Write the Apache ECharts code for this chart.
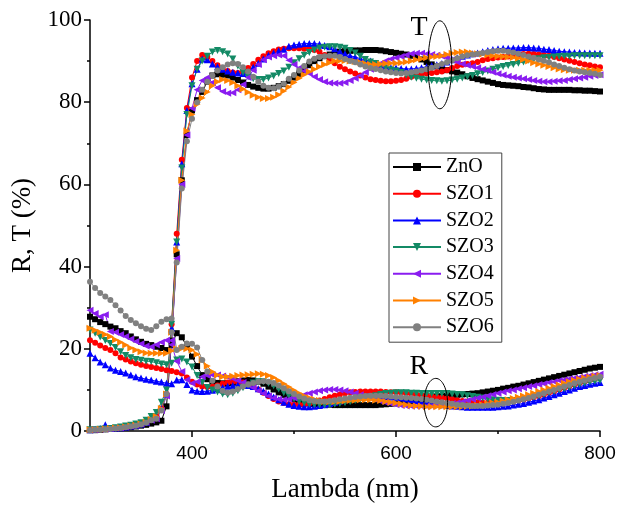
<!DOCTYPE html>
<html>
<head>
<meta charset="utf-8">
<script src="https://cdn.jsdelivr.net/npm/echarts@6/dist/echarts.min.js"></script>
<style>
  html, body { margin: 0; padding: 0; background: #fff; }
  #chart { width: 619px; height: 512px; }
</style>
</head>
<body>
<div id="chart"></div>
<script>
// Wavelength grid of the spectra (nm), 5 nm step
const wavelengths = [];
for (let w = 300; w <= 800; w += 5) wavelengths.push(w);

const sampleNames = ['ZnO', 'SZO1', 'SZO2', 'SZO3', 'SZO4', 'SZO5', 'SZO6'];
const xTickLabels = [400, 600, 800];

// Transmittance T (%)
const tZnO = [
  0.2, 0.2, 0.3, 0.4, 0.5, 0.6, 0.7, 0.8, 0.9, 1.1,
  1.3, 1.5, 1.8, 2.1, 2.5, 6, 22, 43, 61, 72,
  78, 80.5, 82.5, 85, 86.5, 86.8, 86.7, 86.5, 86, 85.4,
  84.8, 84.2, 83.8, 83.5, 83.3, 83.3, 83.5, 83.9, 84.4, 85.2,
  86, 86.9, 87.8, 89, 90, 90.7, 91.2, 91.6, 92, 92.3,
  92.4, 92.5, 92.6, 92.6, 92.7, 92.7, 92.7, 92.6, 92.4, 92.2,
  92, 91.8, 91.6, 91.3, 91, 90.4, 89.8, 89.2, 88.7, 88.2,
  87.8, 87.5, 87.2, 86.8, 86.3, 85.9, 85.6, 85.3, 85, 84.7,
  84.4, 84.2, 84.1, 84, 83.9, 83.7, 83.6, 83.4, 83.2, 83.1,
  83, 83, 83, 83, 83, 82.9, 82.9, 82.8, 82.8, 82.7,
  82.6
];
const tSZO1 = [
  0.3, 0.3, 0.4, 0.5, 0.6, 0.7, 0.8, 1.0, 1.2, 1.4,
  1.7, 2.1, 2.8, 3.5, 5.5, 9, 26, 48, 66, 78.6,
  86, 90, 91.5, 91, 90, 89, 88.3, 87.6, 87.2, 87.1,
  87.5, 88.3, 89.3, 90.3, 91.2, 91.9, 92.4, 92.8, 93, 93.1,
  93.1, 93.1, 93, 92.9, 92.7, 92.3, 91.5, 90.5, 89.5, 88.6,
  88, 87.5, 87, 86.5, 86, 85.6, 85.4, 85.2, 85.1, 85.1,
  85.2, 85.4, 85.7, 86.2, 86.5, 86.8, 87, 87.1, 87.3, 87.5,
  87.8, 88.3, 88.8, 89.1, 89.3, 89.5, 89.8, 90.2, 90.5, 90.7,
  90.9, 91, 91.1, 91.3, 91.5, 91.7, 91.8, 91.7, 91.6, 91.5,
  91.3, 91, 90.7, 90.4, 90.1, 89.8, 89.5, 89.2, 89, 88.7,
  88.5
];
const tSZO2 = [
  0.3, 0.4, 0.6, 1.5, 0.6, 0.7, 0.8, 1.0, 1.2, 1.4,
  1.7, 2.1, 2.8, 3.5, 5.5, 9, 25, 46, 65, 78,
  84.5, 88, 90.5, 90.3, 89.3, 88.6, 88, 87.6, 87.3, 87.1,
  87, 87.4, 88.5, 89.5, 90.5, 91.4, 92, 92.5, 92.9, 93.6,
  93.9, 94.1, 94.3, 94.3, 94.3, 94.1, 93.8, 93.5, 93, 92.4,
  91.8, 91.3, 91, 90.6, 90.3, 90, 89.5, 89, 88.6, 88.4,
  88.3, 88.2, 88.1, 88.1, 88.2, 88.4, 88.6, 88.9, 89.1, 89.4,
  89.8, 90.3, 90.8, 91.2, 91.5, 91.8, 92, 92.3, 92.6, 92.8,
  93, 93.1, 93.1, 93.2, 93.2, 93.3, 93.3, 93.2, 93.1, 92.9,
  92.8, 92.6, 92.4, 92.3, 92.2, 92.1, 92.1, 92, 92, 91.9,
  91.9
];
const tSZO3 = [
  0.3, 0.3, 0.4, 0.5, 0.6, 0.8, 1.0, 1.2, 1.4, 1.7,
  2, 2.6, 3.5, 4.5, 7, 10, 26, 46, 64, 77,
  84, 88, 90, 91.2, 92.2, 92.6, 92.3, 91.7, 90.5, 88.8,
  87.2, 86.2, 85.7, 85.5, 85.5, 85.9, 86.4, 87, 87.6, 88.5,
  89.6, 90.6, 91.4, 92.1, 92.7, 93.2, 93.4, 93.5, 93.5, 93.4,
  93.1, 92.6, 92, 91.2, 90.4, 89.8, 89.4, 88.8, 88.3, 87.9,
  87.6, 87.2, 86.6, 86.1, 85.8, 85.6, 85.4, 85.3, 85.2, 85.1,
  85.2, 85.4, 85.6, 85.9, 86.2, 86.5, 86.9, 87.2, 87.6, 88,
  88.4, 88.7, 88.9, 89.2, 89.5, 89.8, 90.2, 90.4, 90.6, 90.8,
  90.9, 91, 91.1, 91.2, 91.2, 91.3, 91.3, 91.3, 91.3, 91.3,
  91.3
];
const tSZO4 = [
  0.3, 0.3, 0.4, 0.5, 0.6, 0.7, 0.8, 1.0, 1.2, 1.4,
  1.7, 2.1, 2.6, 3, 5, 8.5, 22, 42, 60, 72,
  78.5, 83, 85.3, 86, 84.8, 83.5, 82.6, 82.2, 82.3, 83,
  84.3, 86, 87.8, 89.2, 90.3, 91, 91.3, 91.5, 91.3, 90.2,
  89.2, 88.3, 87.6, 87, 86.2, 85.5, 85, 84.7, 84.6, 84.6,
  84.8, 85.3, 85.8, 86.5, 87.3, 88, 88.7, 89.5, 90.1, 90.5,
  90.8, 91.1, 91.5, 91.8, 91.9, 91.9, 91.8, 91.6, 91.4, 91.2,
  90.8, 90.3, 89.8, 89.3, 89, 88.7, 88.4, 88, 87.7, 87.3,
  86.9, 86.6, 86.3, 86.1, 85.9, 85.7, 85.5, 85.3, 85.1, 85,
  85, 85.1, 85.2, 85.3, 85.5, 85.7, 85.9, 86.1, 86.3, 86.5,
  86.7
];
const tSZO5 = [
  0.3, 0.3, 0.4, 0.5, 0.6, 0.7, 0.8, 1.0, 1.2, 1.4,
  1.7, 2.1, 2.8, 3.5, 5.5, 9, 24, 44, 61, 73,
  77, 79.5, 81, 82.5, 84, 85, 85.5, 85.3, 84.8, 84,
  83.2, 82.4, 81.7, 81.2, 80.9, 80.9, 81.2, 81.8, 82.7, 83.7,
  84.8, 85.8, 86.7, 87.4, 88, 88.6, 89.2, 89.6, 90, 90.1,
  90.1, 90, 89.9, 89.7, 89.4, 89.2, 89.2, 89.3, 89.4, 89.5,
  89.5, 89.6, 89.8, 90, 90.3, 90.6, 90.8, 91, 91.1, 91.3,
  91.6, 91.9, 92.1, 92.2, 92.2, 92, 91.8, 91.7, 91.5, 91.3,
  91.2, 91.1, 91, 90.9, 90.7, 90.4, 90, 89.6, 89.3, 89,
  88.7, 88.4, 88.1, 87.9, 87.8, 87.8, 87.8, 87.8, 87.8, 87.8,
  87.8
];
const tSZO6 = [
  0.2, 0.3, 0.3, 0.4, 0.5, 0.6, 0.7, 0.9, 1.1, 1.3,
  1.6, 2, 2.6, 3, 5, 9, 24, 41, 59, 70.5,
  76, 80, 83, 85, 86.5, 87.7, 88.5, 89.2, 89.5, 89.3,
  88.5, 87.5, 86.2, 85, 84, 83.5, 83.4, 83.8, 84.5, 85.7,
  86.6, 87.7, 88.8, 89.9, 90.6, 91, 91.2, 91.3, 91.3, 91,
  90.5, 90, 89.7, 89.2, 88.7, 88.3, 88.1, 87.8, 87.5, 87.3,
  87.1, 87, 87.1, 87.3, 87.5, 87.7, 88, 88.4, 88.8, 89.3,
  89.7, 90.2, 90.7, 91.1, 91.4, 91.6, 91.8, 92, 92.2, 92.4,
  92.5, 92.5, 92.3, 92.1, 91.8, 91.5, 91.1, 90.8, 90.4, 90.1,
  89.7, 89.2, 88.8, 88.4, 88, 87.7, 87.5, 87.3, 87.1, 86.9,
  86.6
];

// Reflectance R (%)
const rZnO = [
  27.8, 27.2, 26.5, 26, 25.4, 25, 24.3, 23.8, 23, 22.3,
  21.7, 21.2, 20.9, 20.5, 20.2, 19.7, 21, 23.8, 22.8, 20.5,
  18.1, 15.8, 13.6, 12.6, 12, 11.7, 11.6, 11.6, 11.8, 12.1,
  12.3, 12.4, 12.3, 12, 11.5, 10.8, 10.1, 9.4, 8.8, 8.2,
  7.7, 7.3, 7, 6.8, 6.6, 6.5, 6.4, 6.4, 6.3, 6.3,
  6.3, 6.3, 6.3, 6.3, 6.3, 6.3, 6.3, 6.4, 6.5, 6.6,
  6.7, 6.9, 7.1, 7.3, 7.5, 7.7, 7.9, 8.1, 8.3, 8.4,
  8.6, 8.7, 8.8, 8.9, 9, 9.1, 9.2, 9.4, 9.6, 9.8,
  10, 10.3, 10.5, 10.8, 11, 11.3, 11.6, 11.9, 12.2, 12.5,
  12.8, 13.1, 13.4, 13.7, 14, 14.3, 14.6, 14.9, 15.2, 15.4,
  15.6
];
const rSZO1 = [
  22.1, 21.5, 20.8, 20.2, 19.7, 18.9, 17.9, 17.4, 16.9, 16.5,
  16.1, 15.8, 15.6, 15.3, 15.1, 14.8, 14.6, 14.3, 14, 13,
  12, 11.3, 10.8, 10.7, 10.8, 11.1, 11.5, 11.8, 12, 12,
  11.8, 11.4, 10.8, 10.1, 9.3, 8.5, 7.8, 7.2, 6.8, 6.5,
  6.4, 6.4, 6.5, 6.7, 7, 7.4, 7.8, 8.2, 8.6, 8.9,
  9.2, 9.4, 9.5, 9.6, 9.6, 9.6, 9.6, 9.6, 9.5, 9.4,
  9.4, 9.3, 9.2, 9, 8.9, 8.7, 8.6, 8.4, 8.3, 8.1,
  7.9, 7.7, 7.5, 7.3, 7.2, 7.1, 7, 6.9, 6.9, 6.9,
  6.9, 7, 7.1, 7.2, 7.4, 7.6, 7.9, 8.2, 8.5, 8.9,
  9.3, 9.7, 10.1, 10.5, 10.9, 11.3, 11.7, 12.1, 12.5, 12.8,
  13.1
];
const rSZO2 = [
  18.9, 17.8, 16.8, 16.1, 15.3, 14.8, 14.5, 14.1, 13.6, 13.2,
  12.9, 12.6, 12.4, 12.1, 11.9, 11.6, 11.5, 12.4, 12.5, 11.3,
  10, 9.7, 9.6, 9.7, 9.9, 10.2, 10.6, 10.9, 11.1, 11.2,
  11.2, 11.1, 10.8, 10.3, 9.7, 9, 8.3, 7.6, 7, 6.5,
  6.2, 6, 5.9, 5.9, 6, 6.2, 6.4, 6.7, 7, 7.3,
  7.6, 7.9, 8.1, 8.3, 8.4, 8.5, 8.5, 8.5, 8.4, 8.3,
  8.2, 8, 7.8, 7.6, 7.4, 7.2, 7, 6.8, 6.6, 6.4,
  6.2, 6.1, 6, 5.9, 5.8, 5.8, 5.8, 5.8, 5.8, 5.8,
  5.9, 6, 6.1, 6.3, 6.5, 6.7, 7, 7.3, 7.6, 8,
  8.4, 8.8, 9.2, 9.6, 10, 10.4, 10.8, 11.1, 11.4, 11.6,
  11.8
];
const rSZO3 = [
  24.6, 23.8, 22.9, 22, 21.3, 20.3, 19.3, 18.4, 17.8, 17.4,
  17.2, 17, 16.9, 16.6, 16.3, 16.1, 16.5, 17.3, 17.5, 16.8,
  15.6, 13.5, 11.8, 10.6, 10, 9.5, 9, 8.8, 9.2, 9.8,
  10.5, 11.2, 11.7, 12, 12, 11.6, 11, 10.2, 9.3, 8.5,
  7.8, 7.2, 6.8, 6.5, 6.4, 6.3, 6.3, 6.4, 6.5, 6.7,
  6.9, 7.1, 7.4, 7.7, 8, 8.3, 8.6, 8.9, 9.1, 9.2,
  9.3, 9.3, 9.3, 9.2, 9.2, 9.1, 9.1, 9.1, 9.1, 9.1,
  9.1, 9, 8.9, 8.8, 8.6, 8.4, 8.2, 8, 7.8, 7.6,
  7.5, 7.4, 7.4, 7.4, 7.5, 7.7, 7.9, 8.2, 8.5, 8.9,
  9.3, 9.6, 10, 10.3, 10.6, 11, 11.3, 11.6, 11.9, 12.1,
  12.3
];
const rSZO4 = [
  29.4, 28.6, 27.8, 28.3, 24.2, 24, 23.5, 23, 22.4, 21.8,
  21.2, 20.7, 20.5, 21, 21.6, 22.1, 21, 17, 14.5, 12.5,
  11.6, 12, 13.2, 13.5, 13.6, 13.6, 13.4, 13.1, 12.8, 12.3,
  11.8, 11.2, 10.5, 9.8, 9.1, 8.5, 8, 7.7, 7.6, 7.7,
  8, 8.4, 8.8, 9.2, 9.5, 9.8, 10, 10.1, 10.1, 10,
  9.8, 9.5, 9.2, 8.8, 8.4, 8, 7.6, 7.2, 6.9, 6.6,
  6.4, 6.2, 6.1, 6, 6, 6, 6, 6.1, 6.2, 6.3,
  6.5, 6.7, 6.9, 7.1, 7.4, 7.7, 8, 8.3, 8.6, 8.9,
  9.2, 9.5, 9.8, 10, 10.3, 10.5, 10.8, 11, 11.3, 11.5,
  11.8, 12, 12.3, 12.5, 12.7, 12.9, 13.1, 13.3, 13.5, 13.7,
  13.8
];
const rSZO5 = [
  25, 24.5, 24, 23.5, 23, 22.2, 21.6, 20.9, 20.2, 19.7,
  19.3, 19, 18.9, 18.9, 18.9, 18.9, 19.5, 20, 20.1, 20,
  19.7, 18.7, 17.3, 15.8, 14.4, 13.6, 13.2, 13.2, 13.3, 13.5,
  13.6, 13.7, 13.8, 13.9, 13.8, 13.5, 13, 12.3, 11.5, 10.7,
  9.9, 9.2, 8.6, 8.1, 7.7, 7.4, 7.2, 7.1, 7.1, 7.2,
  7.3, 7.4, 7.5, 7.6, 7.6, 7.6, 7.5, 7.4, 7.2, 7,
  6.8, 6.6, 6.4, 6.2, 6.1, 6, 5.9, 5.9, 5.9, 5.9,
  5.9, 5.9, 5.9, 5.9, 6, 6.1, 6.2, 6.4, 6.6, 6.8,
  7, 7.3, 7.6, 7.9, 8.2, 8.5, 8.8, 9.2, 9.6, 10,
  10.4, 10.8, 11.2, 11.6, 12, 12.3, 12.6, 12.9, 13.1, 13.3,
  13.5
];
const rSZO6 = [
  36.3, 34.8, 33.6, 32.7, 31.9, 30.6, 29.3, 28, 27, 26.2,
  25.5, 24.9, 24.6, 25.5, 26.6, 27.2, 27.4, 19.7, 20.5, 21.3,
  21.2, 20.3, 17.3, 14.5, 12.2, 10.8, 9.8, 9.3, 9.6, 10.2,
  10.8, 11.3, 11.7, 12, 12.1, 12, 11.7, 11.1, 10.4, 9.7,
  9, 8.4, 7.9, 7.5, 7.3, 7.2, 7.2, 7.3, 7.5, 7.7,
  7.9, 8.1, 8.3, 8.4, 8.5, 8.6, 8.6, 8.6, 8.5, 8.4,
  8.3, 8.2, 8.1, 8, 7.9, 7.8, 7.6, 7.4, 7.2, 7,
  6.8, 6.6, 6.4, 6.3, 6.2, 6.1, 6.1, 6.1, 6.2, 6.3,
  6.4, 6.6, 6.8, 7.1, 7.4, 7.7, 8, 8.4, 8.8, 9.2,
  9.6, 10, 10.4, 10.8, 11.2, 11.6, 12, 12.3, 12.6, 12.9,
  13.2
];

const transmittance = [tZnO, tSZO1, tSZO2, tSZO3, tSZO4, tSZO5, tSZO6];
const reflectance = [rZnO, rSZO1, rSZO2, rSZO3, rSZO4, rSZO5, rSZO6];

// Per-sample look: colour, marker shape, marker rotation, marker size
const colors = ['#000000', '#ff0000', '#0000ff', '#138a65', '#8a1cf0', '#ff8000', '#808080'];
const symbols = ['rect', 'circle', 'triangle', 'triangle', 'triangle', 'triangle', 'circle'];
const rotations = [0, 0, 0, 180, 90, -90, 0];
const symbolSizes = [6, 6, 7, 7, 7, 7, 6];

const SERIF = '"Liberation Serif", "Times New Roman", serif';
const SANS = '"Liberation Sans", Arial, sans-serif';

function pairs(ys) {
  return ys.map((v, i) => [wavelengths[i], v]);
}

const series = [];
sampleNames.forEach((name, i) => {
  [transmittance[i], reflectance[i]].forEach((ys) => {
    series.push({
      name: name,
      type: 'line',
      data: pairs(ys),
      symbol: symbols[i],
      symbolRotate: rotations[i],
      symbolSize: symbolSizes[i],
      showAllSymbol: true,
      color: colors[i],
      lineStyle: { width: 1, color: colors[i] },
      itemStyle: { color: colors[i] },
      animation: false
    });
  });
});

const chart = echarts.init(document.getElementById('chart'), null, { renderer: 'canvas' });

chart.setOption({
  backgroundColor: '#ffffff',
  animation: false,
  grid: { left: 90, right: 19, top: 20, bottom: 81 },
  legend: {
    data: sampleNames,
    orient: 'vertical',
    left: 389,
    top: 153,
    padding: [4, 8, 5, 3],
    itemWidth: 48,
    itemHeight: 10,
    itemGap: 6.7,
    borderColor: '#444',
    borderWidth: 1,
    selectedMode: false,
    textStyle: { fontFamily: SERIF, fontSize: 20, lineHeight: 20, color: '#000' }
  },
  xAxis: [{
    type: 'value',
    min: 300,
    max: 800,
    interval: 100,
    name: 'Lambda (nm)',
    nameLocation: 'middle',
    nameGap: 45,
    nameTextStyle: { fontFamily: SERIF, fontSize: 27, color: '#000' },
    axisLine: { lineStyle: { color: '#000', width: 1.5 } },
    axisTick: { inside: false, length: 6, customValues: xTickLabels, lineStyle: { color: '#000', width: 1.5 } },
    axisLabel: { customValues: xTickLabels, margin: 13, fontFamily: SANS, fontSize: 19, color: '#000' },
    splitLine: { show: false }
  }, {
    type: 'value',
    min: 300,
    max: 800,
    interval: 100,
    position: 'bottom',
    axisLine: { show: false },
    axisTick: { inside: false, length: 3, customValues: [500, 700], lineStyle: { color: '#000', width: 1.5 } },
    axisLabel: { show: false },
    splitLine: { show: false }
  }],
  yAxis: {
    type: 'value',
    min: 0,
    max: 100,
    interval: 20,
    name: 'R, T (%)',
    nameLocation: 'middle',
    nameGap: 47,
    nameTextStyle: { fontFamily: SERIF, fontSize: 27, color: '#000' },
    axisLine: { show: true, lineStyle: { color: '#000', width: 1.5 } },
    axisTick: { show: true, inside: false, length: 6, lineStyle: { color: '#000', width: 1.5 } },
    minorTick: { show: true, splitNumber: 2, length: 3, lineStyle: { color: '#000', width: 1.5 } },
    axisLabel: { margin: 8, fontFamily: SERIF, fontSize: 23, color: '#000' },
    splitLine: { show: false },
    minorSplitLine: { show: false }
  },
  series: series
});

// Callouts marking the transmittance (T) and reflectance (R) curve groups
const callouts = [
  { label: 'T', text: [622.5, 98.2], center: [643, 89.1], rx: 11.6, ry: 10.7 },
  { label: 'R', text: [622.5, 15.7], center: [639, 6.9], rx: 11.5, ry: 5.9 }
];
const graphics = [];
callouts.forEach((c) => {
  const p = chart.convertToPixel({ xAxisIndex: 0, yAxisIndex: 0 }, c.center);
  const edge = chart.convertToPixel({ xAxisIndex: 0, yAxisIndex: 0 }, [c.center[0] + c.rx, c.center[1] + c.ry]);
  const t = chart.convertToPixel({ xAxisIndex: 0, yAxisIndex: 0 }, c.text);
  graphics.push({
    type: 'ellipse',
    shape: { cx: p[0], cy: p[1], rx: Math.abs(edge[0] - p[0]), ry: Math.abs(p[1] - edge[1]) },
    style: { fill: 'none', stroke: '#000', lineWidth: 1 },
    z: 100
  });
  graphics.push({
    type: 'text',
    x: t[0],
    y: t[1],
    style: { text: c.label, font: '28px ' + SERIF, fill: '#000', align: 'center', verticalAlign: 'middle' },
    z: 100
  });
});
chart.setOption({ graphic: graphics });
</script>
</body>
</html>
